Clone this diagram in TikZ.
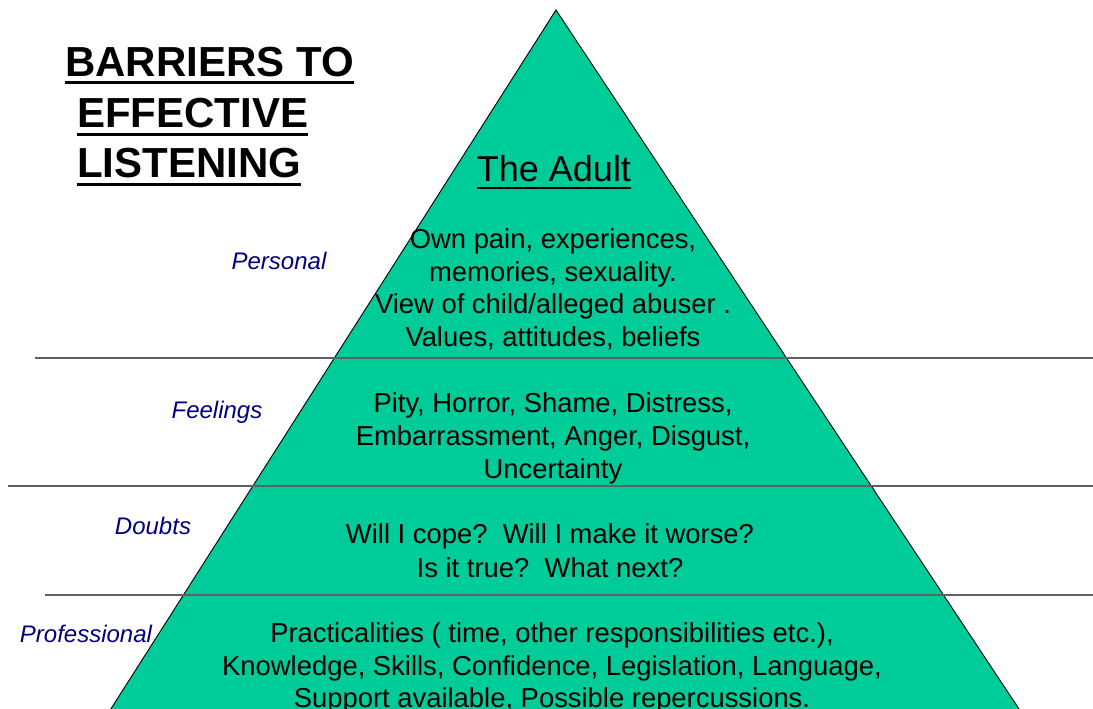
\documentclass[tikz,border=0pt]{standalone}
\usepackage{fontspec}
\setmainfont{Liberation Sans}
\definecolor{pyr}{HTML}{00CC99}
\definecolor{lbl}{HTML}{000080}
\begin{document}
\begin{tikzpicture}[x=1pt,y=-1pt,
  title/.style={anchor=base west,inner sep=0pt,font=\fontsize{42}{42}\selectfont\bfseries},
  uline/.style={line width=3pt},
  sepline/.style={draw=black!62,line width=1.1pt},
  body/.style={align=center,inner sep=0pt,font=\fontsize{27.4}{32.5}\selectfont},
  lab/.style={anchor=base,inner sep=0pt,text=lbl,font=\fontsize{24}{24}\selectfont\itshape}]
\useasboundingbox (0,0) rectangle (1093,709);
\clip (0,0) rectangle (1093,709);
% pyramid
\coordinate (apex) at (556,10);
\coordinate (bl) at (107,715);
\coordinate (br) at (1023,715);
\fill[pyr] (apex) -- (bl) -- (br) -- cycle;
\draw[line width=0.9pt] (bl) -- (apex) -- (br);
% separators
\coordinate (s1a) at (35,358);  \coordinate (s1b) at (1093,358);
\coordinate (s2a) at (8,486);   \coordinate (s2b) at (1093,486);
\coordinate (s3a) at (45,595);  \coordinate (s3b) at (1093,595);
\draw[sepline] (s1a) -- (s1b);
\draw[sepline] (s2a) -- (s2b);
\draw[sepline] (s3a) -- (s3b);
% title
\node[title] (t1) at (65,77) {BARRIERS TO};
\node[title] (t2) at (77,128) {EFFECTIVE};
\node[title] (t3) at (77,177) {LISTENING};
\draw[uline] ([yshift=-6pt]t1.base west) -- ([yshift=-6pt]t1.base east);
\draw[uline] ([yshift=-6pt]t2.base west) -- ([yshift=-6pt]t2.base east);
\draw[uline] ([yshift=-7.5pt]t3.base west) -- ([yshift=-7.5pt]t3.base east);
% adult
\node[anchor=base,inner sep=0pt,font=\fontsize{36}{36}\selectfont] (adult) at (554,181) {The Adult};
\draw[line width=2.5pt] ([yshift=-7pt]adult.base west) -- ([yshift=-7pt]adult.base east);
% body texts
\node[body] (personal) at (553,289.5) {Own pain, experiences,\\ memories, sexuality.\\ View of child/alleged abuser .\\ Values, attitudes, beliefs};
\node[body,font=\fontsize{27.4}{33}\selectfont] (feelings) at (553,438.5) {Pity, Horror, Shame, Distress,\\ Embarrassment, Anger, Disgust,\\ Uncertainty};
\node[body,font=\fontsize{27.4}{33.5}\selectfont] (doubts) at (550,550.5) {Will I cope?\ \ Will I make it worse?\\ Is it true?\ \ What next?};
\node[body] (prof) at (552,668) {Practicalities ( time, other responsibilities etc.),\\ Knowledge, Skills, Confidence, Legislation, Language,\\ Support available, Possible repercussions.};
% labels
\node[lab] (lp) at (279,269) {Personal};
\node[lab] (lf) at (217,418) {Feelings};
\node[lab] (ld) at (153,534) {Doubts};
\node[lab] (lpr) at (86,642) {Professional};
\end{tikzpicture}
\end{document}
